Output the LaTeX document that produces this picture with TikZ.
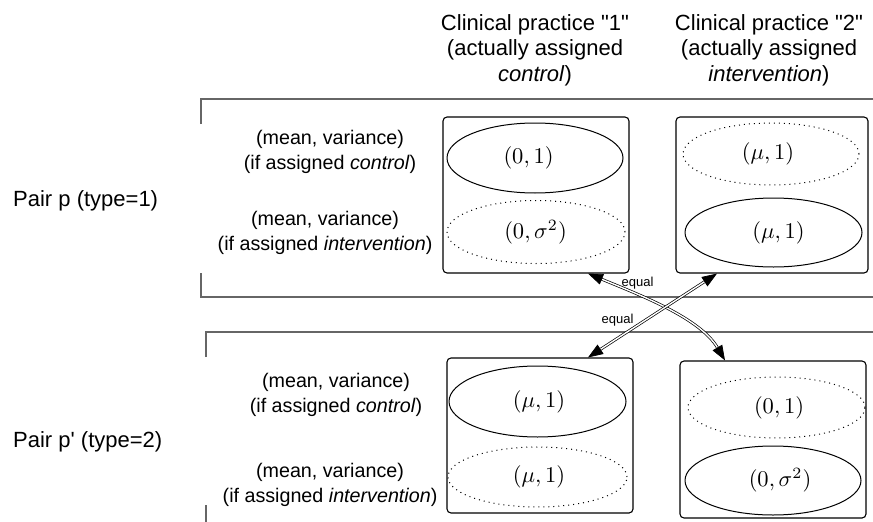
\documentclass[tikz,border=0pt]{standalone}
\usepackage[no-math]{fontspec}
\usepackage{graphicx}
\setmainfont{Liberation Sans}[Ligatures=TeXOff]
\usetikzlibrary{shapes.geometric,arrows.meta}
% math labels, shifted right (mfR) or left (mfL) by #1/2
\newcommand{\mfR}[2]{\hspace*{#1}\scalebox{2.25}{$#2$}}
\newcommand{\mfL}[2]{\scalebox{2.25}{$#2$}\hspace*{#1}}
\begin{document}
\begin{tikzpicture}[x=1pt,y=-1pt,
  frame/.style={draw=black!60,line width=1.3pt},
  boxx/.style={draw,rounded corners=4pt,line width=1.1pt,inner sep=0pt},
  lbl/.style={font=\fontsize{19.7}{24.5}\selectfont,align=center,anchor=base,inner sep=0pt},
  big/.style={font=\fontsize{22}{25.5}\selectfont,align=center,anchor=base,inner sep=0pt},
  pairlbl/.style={font=\fontsize{22}{25.5}\selectfont,anchor=base west,inner sep=0pt},
  solell/.style={ellipse,draw,line width=1pt,inner sep=0pt},
  dotell/.style={ellipse,draw,line width=1pt,dash pattern=on 1pt off 4pt,inner sep=0pt},
  eqlbl/.style={font=\fontsize{13}{15}\selectfont,anchor=base,inner sep=0pt},
  link/.style={double,double distance=1.4pt,line width=0.7pt,
    {Triangle[length=15pt 0,width=11pt 0]}-{Triangle[length=15pt 0,width=11pt 0]}}
]
\useasboundingbox (0,0) rectangle (873,522);

% cluster frames
\draw[frame] (201,124) -- (201,99) -- (873,99);
\draw[frame] (201,273) -- (201,297) -- (873,297);
\draw[frame] (206,357) -- (206,332) -- (873,332);
\draw[frame] (206,505) -- (206,522);

% headers (anchor base = last line)
\node[big] (h1) at (535,81) {Clinical practice "1"\\(actually assigned\\\textit{control})};
\node[big] (h2) at (769,81) {Clinical practice "2"\\(actually assigned\\\textit{intervention})};

% pair labels
\node[pairlbl] (p1) at (13,206) {Pair p (type=1)};
\node[pairlbl] (p2) at (13,447) {Pair p' (type=2)};

% row labels
\node[lbl] (l1) at (330,169) {(mean, variance)\\(if assigned \textit{control})};
\node[lbl] (l2) at (325,250) {(mean, variance)\\(if assigned \textit{intervention})};
\node[lbl] (l3) at (336,412) {(mean, variance)\\(if assigned \textit{control})};
\node[lbl] (l4) at (330,502) {(mean, variance)\\(if assigned \textit{intervention})};

% boxes
\node[boxx,minimum width=186pt,minimum height=156pt] (B1) at (536,195) {};
\node[boxx,minimum width=192pt,minimum height=156pt] (B2) at (772,195) {};
\node[boxx,minimum width=186pt,minimum height=155pt] (B3) at (540,435.5) {};
\node[boxx,minimum width=186pt,minimum height=157pt] (B4) at (773,439.5) {};

% ellipses
\node[solell,minimum width=176pt,minimum height=70pt] (e1) at (535,158) {\mfL{13pt}{(0,1)}};
\node[dotell,minimum width=178pt,minimum height=63pt] (e2) at (536,232) {\mfL{1pt}{(0,\sigma^2)}};
\node[dotell,minimum width=176pt,minimum height=62pt] (e3) at (771,154) {\mfL{6pt}{(\mu,1)}};
\node[solell,minimum width=177pt,minimum height=69pt] (e4) at (773.5,232.5) {\mfR{10pt}{(\mu,1)}};
\node[solell,minimum width=177pt,minimum height=71pt] (e5) at (537.5,401.5) {\mfR{3pt}{(\mu,1)}};
\node[dotell,minimum width=179pt,minimum height=60pt] (e6) at (537.5,477) {\mfR{3pt}{(\mu,1)}};
\node[dotell,minimum width=177pt,minimum height=61pt] (e7) at (776.5,407.5) {\mfR{5pt}{(0,1)}};
\node[solell,minimum width=176pt,minimum height=69pt] (e8) at (773,480.5) {\mfR{14pt}{(0,\sigma^2)}};

% connectors
\coordinate (a1) at (588,0 |- B1.south);
\coordinate (a2) at (725,0 |- B4.north);
\coordinate (b1) at (717,0 |- B2.south);
\coordinate (b2) at (588,0 |- B3.north);
\draw[link] (a1) .. controls (640,295) and (700,318) .. (a2);
\draw[link] (b1) -- (b2);
\node[eqlbl] (q1) at (637.5,286.7) {equal};
\node[eqlbl] (q2) at (617.5,323) {equal};
\end{tikzpicture}
\end{document}
